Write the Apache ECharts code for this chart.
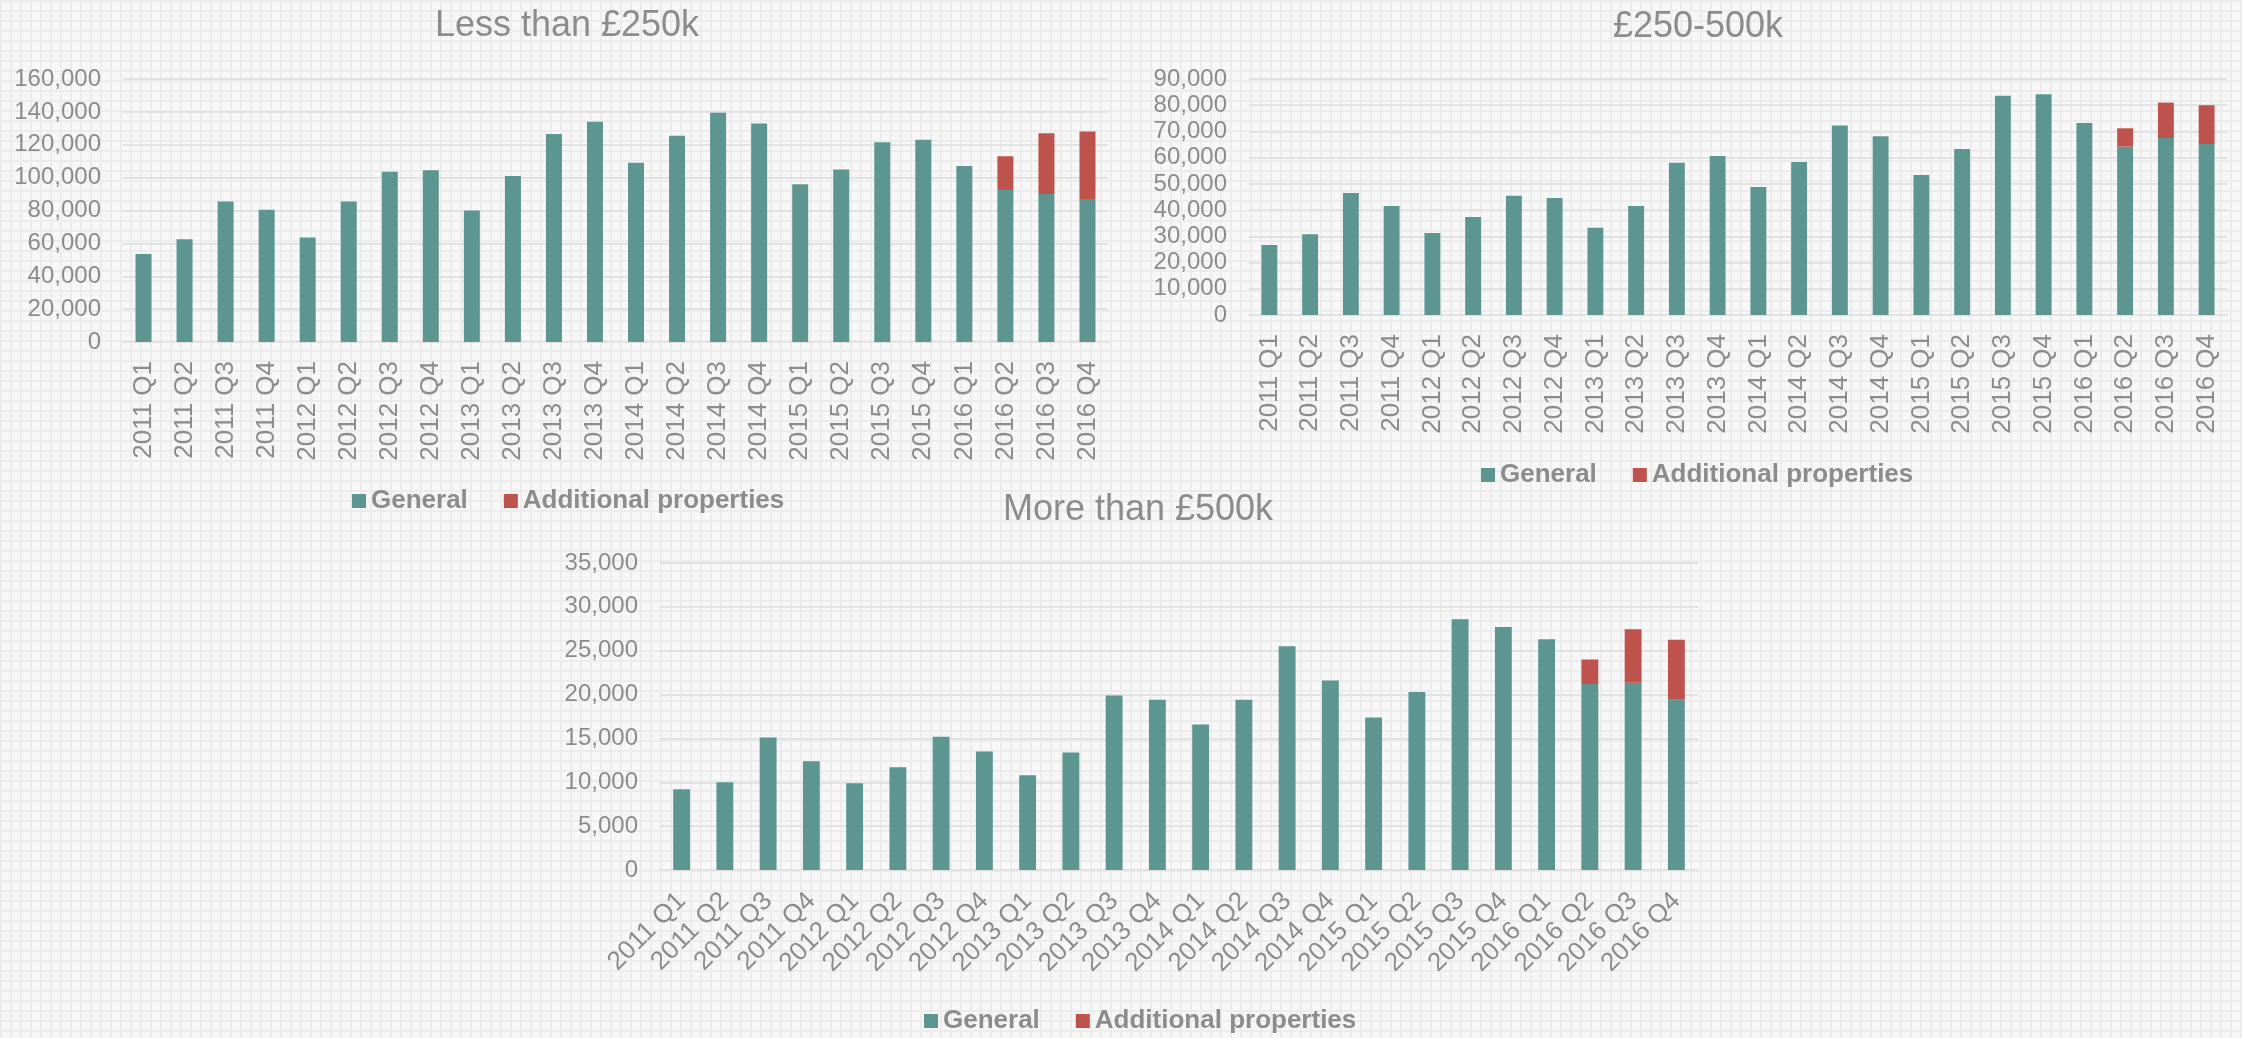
<!DOCTYPE html>
<html>
<head>
<meta charset="utf-8">
<title>Transactions by price band</title>
<script src="https://cdn.jsdelivr.net/npm/echarts@6/dist/echarts.min.js"></script>
<style>
  html, body {
    margin: 0;
    padding: 0;
    width: 2242px;
    height: 1038px;
    overflow: hidden;
    background-color: #f7f7f7;
    background-image:
      linear-gradient(to right, #ececec 2px, transparent 2px),
      linear-gradient(to bottom, #ececec 2px, transparent 2px);
    background-size: 10px 10px;
  }
  #chart { width: 2242px; height: 1038px; }
</style>
</head>
<body>
<div id="chart"></div>
<script>
// quarters shared by all three panels
var quarters = [
  '2011 Q1', '2011 Q2', '2011 Q3', '2011 Q4',
  '2012 Q1', '2012 Q2', '2012 Q3', '2012 Q4',
  '2013 Q1', '2013 Q2', '2013 Q3', '2013 Q4',
  '2014 Q1', '2014 Q2', '2014 Q3', '2014 Q4',
  '2015 Q1', '2015 Q2', '2015 Q3', '2015 Q4',
  '2016 Q1', '2016 Q2', '2016 Q3', '2016 Q4'
];

// Less than £250k
var lowGeneral = [53500, 62500, 85500, 80500, 63500, 85500, 103500, 104500,
  80000, 101000, 126500, 134000, 109000, 125500, 139500, 133000,
  96000, 105000, 121500, 123000, 107000, 92500, 90000, 87000];
var lowAdditional = [null, null, null, null, null, null, null, null,
  null, null, null, null, null, null, null, null,
  null, null, null, null, null, 20500, 37000, 41000];

// £250-500k
var midGeneral = [26700, 30800, 46500, 41600, 31300, 37400, 45500, 44600,
  33300, 41600, 58100, 60600, 48800, 58300, 72300, 68200,
  53400, 63300, 83600, 84200, 73200, 64200, 67500, 65200];
var midAdditional = [null, null, null, null, null, null, null, null,
  null, null, null, null, null, null, null, null,
  null, null, null, null, null, 7000, 13500, 14800];

// More than £500k
var highGeneral = [9200, 10000, 15100, 12400, 9900, 11700, 15200, 13500,
  10800, 13400, 19900, 19400, 16600, 19400, 25500, 21600,
  17400, 20300, 28600, 27700, 26300, 21200, 21350, 19400];
var highAdditional = [null, null, null, null, null, null, null, null,
  null, null, null, null, null, null, null, null,
  null, null, null, null, null, 2800, 6100, 6850];

var panelTitles = ['Less than £250k', '£250-500k', 'More than £500k'];
var yMax = [160000, 90000, 35000];
var yStep = [20000, 10000, 5000];

var font = 'Arial, "Liberation Sans", sans-serif';
var textGray = '#8c8c8c';
var teal = '#5d9691';
var red = '#be524c';
var lineGray = '#e2e2e2';

var grids = [
  { left: 123, top: 79, width: 985, height: 263 },
  { left: 1249, top: 79, width: 978, height: 236 },
  { left: 660, top: 563, width: 1038, height: 307 }
];
var titlePos = [{ x: 567, y: 8 }, { x: 1698, y: 9 }, { x: 1138, y: 492 }];
var legendPos = [{ x: 352, y: 488 }, { x: 1481, y: 462 }, { x: 924, y: 1008 }];
var labelRotate = [90, 90, 45];
var labelMargin = [19, 19, 27];
var generalData = [lowGeneral, midGeneral, highGeneral];
var additionalData = [lowAdditional, midAdditional, highAdditional];

var chart = echarts.init(document.getElementById('chart'), null, { renderer: 'canvas' });

var option = {
  backgroundColor: 'transparent',
  animation: false,
  title: [],
  legend: [],
  grid: [],
  xAxis: [],
  yAxis: [],
  series: []
};

for (var i = 0; i < 3; i++) {
  option.title.push({
    text: panelTitles[i],
    left: titlePos[i].x,
    top: titlePos[i].y,
    textAlign: 'center',
    padding: 0,
    textStyle: { color: textGray, fontFamily: font, fontSize: 36, fontWeight: 'normal' }
  });
  option.legend.push({
    data: ['General', 'Additional properties'],
    left: legendPos[i].x,
    top: legendPos[i].y,
    padding: 0,
    icon: 'rect',
    itemWidth: 14,
    itemHeight: 14,
    itemGap: 36,
    selectedMode: false,
    textStyle: { color: textGray, fontFamily: font, fontSize: 26, fontWeight: 'bold' }
  });
  option.grid.push(Object.assign({ containLabel: false }, grids[i]));
  option.xAxis.push({
    type: 'category',
    gridIndex: i,
    data: quarters,
    axisTick: { show: false },
    axisLine: { lineStyle: { color: lineGray, width: 2 } },
    axisLabel: {
      interval: 0,
      rotate: labelRotate[i],
      margin: labelMargin[i],
      color: textGray,
      fontFamily: font,
      fontSize: 26
    }
  });
  option.yAxis.push({
    type: 'value',
    gridIndex: i,
    min: 0,
    max: yMax[i],
    interval: yStep[i],
    axisLine: { show: false },
    axisTick: { show: false },
    splitLine: { lineStyle: { color: lineGray, width: 2 } },
    axisLabel: {
      margin: 22,
      color: textGray,
      fontFamily: font,
      fontSize: 24,
      formatter: function (v) { return v.toLocaleString('en-US'); }
    }
  });
  option.series.push({
    name: 'General',
    type: 'bar',
    xAxisIndex: i,
    yAxisIndex: i,
    stack: 'band' + i,
    barWidth: '39%',
    itemStyle: { color: teal },
    data: generalData[i]
  });
  option.series.push({
    name: 'Additional properties',
    type: 'bar',
    xAxisIndex: i,
    yAxisIndex: i,
    stack: 'band' + i,
    barWidth: '39%',
    itemStyle: { color: red },
    data: additionalData[i]
  });
}

chart.setOption(option);
</script>
</body>
</html>
